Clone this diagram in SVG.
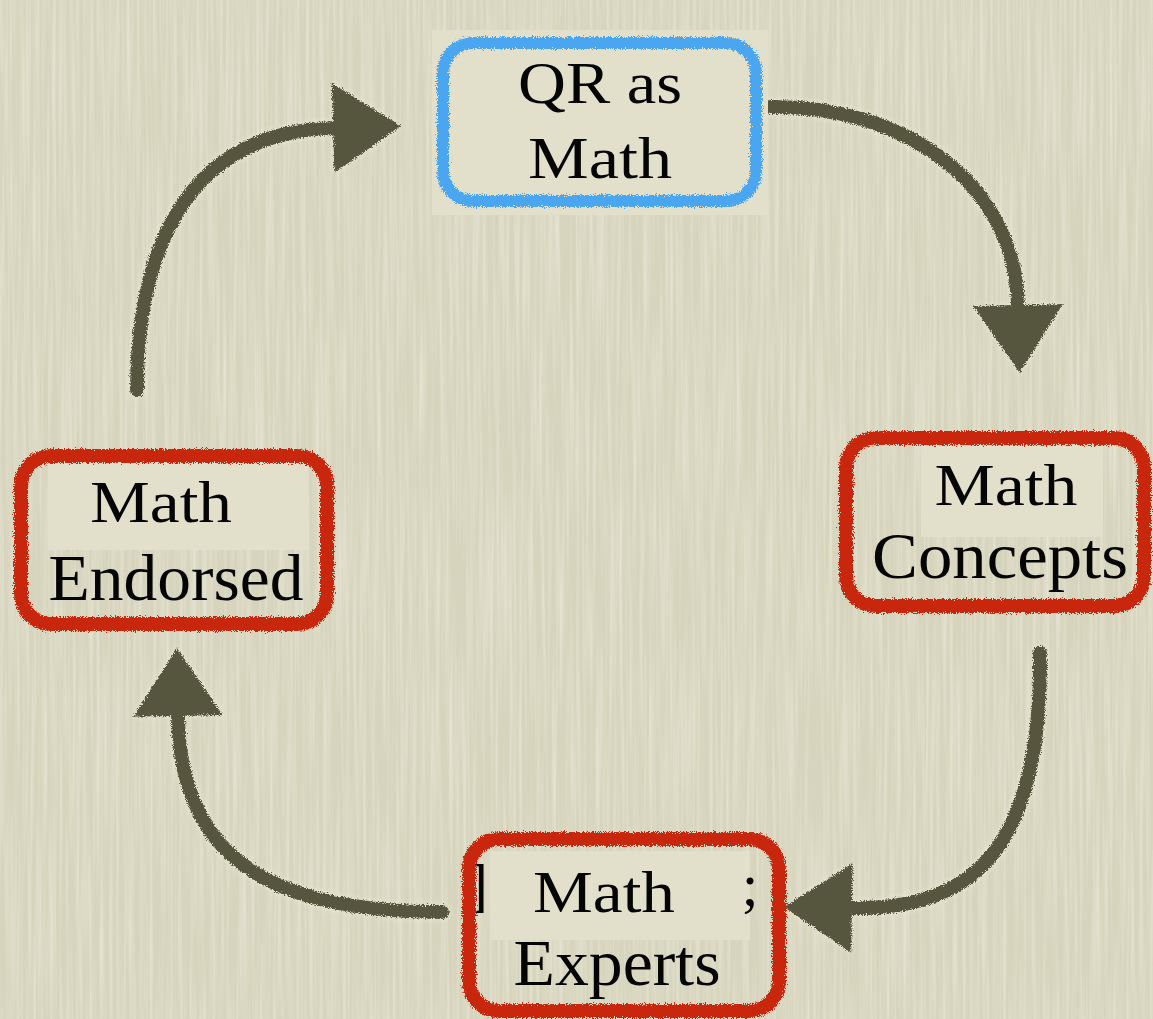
<svg xmlns="http://www.w3.org/2000/svg" width="1153" height="1019" viewBox="0 0 1153 1019">
<defs>
<style>
.lbl{font-family:"Liberation Serif","DejaVu Serif",serif;fill:#050505;text-anchor:middle}
.big{font-size:66px}
.sm{font-size:60px}
.patch{fill:#e2e0cb}
.red{fill:none;stroke:#c8260f;stroke-width:14}
.blue{fill:none;stroke:#4ba6f2;stroke-width:12}
.arr{fill:none;stroke:#57543e;stroke-width:14;stroke-linecap:round;marker-end:url(#head)}
</style>
<filter id="paper" filterUnits="userSpaceOnUse" x="0" y="0" width="1153" height="1019">
<feTurbulence type="fractalNoise" baseFrequency="0.3 0.006" numOctaves="2" seed="7"/>
<feColorMatrix type="matrix" values="0 0 0 0 1  0 0 0 0 1  0 0 0 0 0.95  1.6 0 0 0 -0.6"/>
</filter>
<filter id="rough" filterUnits="userSpaceOnUse" x="0" y="0" width="1153" height="1019">
<feTurbulence type="fractalNoise" baseFrequency="0.9" numOctaves="2" seed="3" result="n"/>
<feDisplacementMap in="SourceGraphic" in2="n" scale="7" xChannelSelector="R" yChannelSelector="G"/>
</filter>
<filter id="chalk" filterUnits="userSpaceOnUse" x="0" y="0" width="1153" height="1019">
<feTurbulence type="fractalNoise" baseFrequency="0.9" numOctaves="2" seed="5" result="n"/>
<feDisplacementMap in="SourceGraphic" in2="n" scale="6" xChannelSelector="R" yChannelSelector="G" result="d"/>
<feGaussianBlur in="SourceAlpha" stdDeviation="3" result="b"/>
<feFlood flood-color="#f3f1df" flood-opacity="0.7"/>
<feComposite in2="b" operator="in" result="glow"/>
<feMerge><feMergeNode in="glow"/><feMergeNode in="d"/></feMerge>
</filter>
<marker id="head" markerUnits="userSpaceOnUse" markerWidth="80" markerHeight="100" viewBox="0 0 80 100" refX="2" refY="48" orient="auto">
<path d="M2,3 L70,48 L2,93 Z" fill="#57543e"/>
</marker>
</defs>
<rect width="1153" height="1019" fill="#d6d4bc"/>
<rect width="1153" height="1019" fill="#fff" filter="url(#paper)" opacity="0.45"/>

<g id="connectors" filter="url(#chalk)">
<path class="arr" d="M137,390 C137,230 200,132 333,128"/>
<path class="arr" d="M770,107 C900,105 1015,180 1018,305"/>
<path class="arr" d="M1040,653 C1042,840 980,910 852,908"/>
<path class="arr" d="M442,912 C260,912 180,850 178,716"/>
</g>

<g id="node-qr">
<rect class="patch" x="432" y="30" width="336" height="185"/>
<rect class="blue" x="443" y="43" width="313" height="158" rx="30" filter="url(#rough)"/>
<text class="lbl sm" x="600" y="103" textLength="164" lengthAdjust="spacingAndGlyphs">QR as</text>
<text class="lbl sm" x="600" y="178" textLength="144" lengthAdjust="spacingAndGlyphs">Math</text>
</g>

<g id="node-concepts">
<rect class="patch" x="921" y="446" width="182" height="91"/>
<rect class="red" x="846" y="438" width="298" height="168" rx="30" filter="url(#rough)"/>
<text class="lbl sm" x="1006" y="505" textLength="143" lengthAdjust="spacingAndGlyphs">Math</text>
<text class="lbl big" x="1000" y="578" textLength="256" lengthAdjust="spacingAndGlyphs">Concepts</text>
</g>

<g id="node-experts">
<text class="lbl sm" x="478" y="905">]</text>
<rect class="patch" x="490" y="851" width="260" height="89"/>
<text class="lbl sm" x="750" y="905">;</text>
<rect class="red" x="469" y="839" width="310" height="172" rx="30" filter="url(#rough)"/>
<text class="lbl sm" x="604" y="912" textLength="142" lengthAdjust="spacingAndGlyphs">Math</text>
<text class="lbl big" x="617" y="985" textLength="207" lengthAdjust="spacingAndGlyphs">Experts</text>
</g>

<g id="node-endorsed">
<rect class="patch" x="48" y="462" width="260" height="88"/>
<rect class="red" x="21" y="456" width="306" height="168" rx="30" filter="url(#rough)"/>
<text class="lbl sm" x="161" y="522" textLength="142" lengthAdjust="spacingAndGlyphs">Math</text>
<text class="lbl big" x="176" y="600" textLength="255" lengthAdjust="spacingAndGlyphs">Endorsed</text>
</g>
</svg>
